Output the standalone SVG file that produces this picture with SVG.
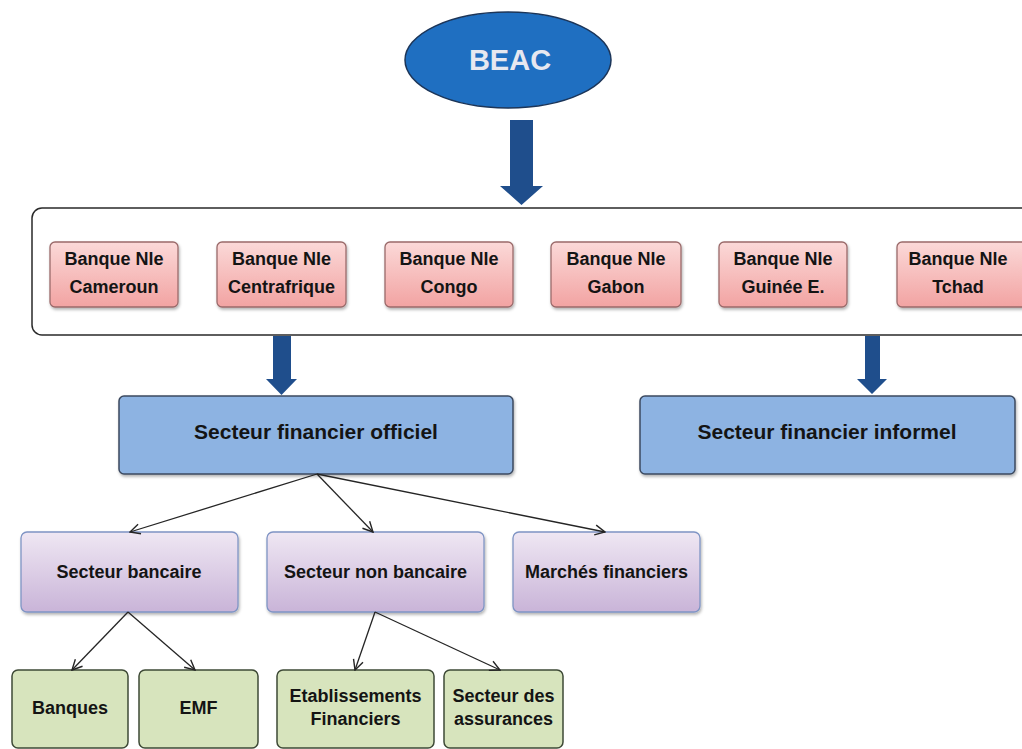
<svg xmlns="http://www.w3.org/2000/svg" width="1022" height="749" viewBox="0 0 1022 749">
<style>
text{font-family:"Liberation Sans",Arial,sans-serif;font-weight:bold;fill:#141414;text-anchor:middle}
.pink{fill:url(#gPink);stroke:#9a6a6a;stroke-width:1.3}
.blue{fill:#8db3e2;stroke:#3c4a60;stroke-width:1.5}
.purple{fill:url(#gPurple);stroke:#7f94c4;stroke-width:1.3}
.green{fill:#d7e4bd;stroke:#3e4a36;stroke-width:1.5}
.thin{fill:none;stroke:#252525;stroke-width:1.3;marker-end:url(#open)}
.big{fill:#1f4e8c}
</style>
<defs>
<linearGradient id="gPink" x1="0" y1="0" x2="0" y2="1">
<stop offset="0" stop-color="#fbd9d8"/><stop offset="1" stop-color="#f2a3a2"/>
</linearGradient>
<linearGradient id="gPurple" x1="0" y1="0" x2="0" y2="1">
<stop offset="0" stop-color="#efe7f3"/><stop offset="1" stop-color="#c9b4d8"/>
</linearGradient>
<filter id="sh" x="-10%" y="-10%" width="120%" height="130%">
<feDropShadow dx="1" dy="2" stdDeviation="1.5" flood-color="#000" flood-opacity="0.3"/>
</filter>
<marker id="open" viewBox="0 0 12 12" refX="11" refY="6" markerWidth="12" markerHeight="12" markerUnits="userSpaceOnUse" orient="auto">
<path d="M1,1 L11,6 L1,11" fill="none" stroke="#252525" stroke-width="1.4"/>
</marker>
</defs>
<rect width="1022" height="749" fill="#ffffff"/>

<g id="beac">
<ellipse cx="508" cy="60" rx="103" ry="48" fill="#1f6fc1" stroke="#1c3558" stroke-width="1.5"/>
<text x="510" y="70" style="font-size:29px;fill:#e6e8f0">BEAC</text>
</g>

<g id="banques-nationales">
<rect x="32" y="208" width="1010" height="127" rx="10" fill="#ffffff" stroke="#2a2a2a" stroke-width="1.5"/>
</g>
<g id="bn-cameroun"><rect class="pink" x="50" y="242" width="128" height="65" rx="5" filter="url(#sh)"/><text x="114" y="265" font-size="18">Banque Nle</text><text x="114" y="293" font-size="18">Cameroun</text></g>
<g id="bn-centrafrique"><rect class="pink" x="217" y="242" width="129" height="65" rx="5" filter="url(#sh)"/><text x="281.5" y="265" font-size="18">Banque Nle</text><text x="281.5" y="293" font-size="18">Centrafrique</text></g>
<g id="bn-congo"><rect class="pink" x="385" y="242" width="128" height="65" rx="5" filter="url(#sh)"/><text x="449" y="265" font-size="18">Banque Nle</text><text x="449" y="293" font-size="18">Congo</text></g>
<g id="bn-gabon"><rect class="pink" x="551" y="242" width="130" height="65" rx="5" filter="url(#sh)"/><text x="616" y="265" font-size="18">Banque Nle</text><text x="616" y="293" font-size="18">Gabon</text></g>
<g id="bn-guinee"><rect class="pink" x="719" y="242" width="128" height="65" rx="5" filter="url(#sh)"/><text x="783" y="265" font-size="18">Banque Nle</text><text x="783" y="293" font-size="18">Guinée E.</text></g>
<g id="bn-tchad"><rect class="pink" x="897" y="242" width="132" height="65" rx="5" filter="url(#sh)"/><text x="958" y="265" font-size="18">Banque Nle</text><text x="958" y="293" font-size="18">Tchad</text></g>

<g id="sf-officiel"><rect class="blue" x="119" y="396" width="394" height="78" rx="5" filter="url(#sh)"/><text x="316" y="439" font-size="21">Secteur financier officiel</text></g>
<g id="sf-informel"><rect class="blue" x="640" y="396" width="375" height="78" rx="5" filter="url(#sh)"/><text x="827" y="439" font-size="21">Secteur financier informel</text></g>

<g id="s-bancaire"><rect class="purple" x="21" y="532" width="217" height="80" rx="6" filter="url(#sh)"/><text x="129" y="578" font-size="18">Secteur bancaire</text></g>
<g id="s-non-bancaire"><rect class="purple" x="267" y="532" width="217" height="80" rx="6" filter="url(#sh)"/><text x="375.5" y="578" font-size="18">Secteur non bancaire</text></g>
<g id="marches"><rect class="purple" x="513" y="532" width="187" height="80" rx="6" filter="url(#sh)"/><text x="606.5" y="578" font-size="18">Marchés financiers</text></g>

<g id="banques"><rect class="green" x="12" y="670" width="116" height="78" rx="6"/><text x="70" y="714" font-size="18">Banques</text></g>
<g id="emf"><rect class="green" x="139" y="670" width="119" height="78" rx="6"/><text x="198.5" y="714" font-size="18">EMF</text></g>
<g id="etablissements"><rect class="green" x="277" y="670" width="157" height="78" rx="6"/><text x="355.5" y="702" font-size="18">Etablissements</text><text x="355.5" y="725" font-size="18">Financiers</text></g>
<g id="assurances"><rect class="green" x="444" y="670" width="119" height="78" rx="6"/><text x="503.5" y="702" font-size="18">Secteur des</text><text x="503.5" y="725" font-size="18">assurances</text></g>

<g id="connectors">
<polygon class="big" points="510,120 533,120 533,186 543,186 521.5,205 500,186 510,186"/>
<polygon class="big" points="273,336 291,336 291,379 297,379 281.5,395 266,379 273,379"/>
<polygon class="big" points="865,336 880,336 880,379 887,379 872,394 857,379 865,379"/>
<path class="thin" d="M317,474 L130,532"/>
<path class="thin" d="M317,474 L373,532"/>
<path class="thin" d="M317,474 L605,532"/>
<path class="thin" d="M128,612 L72,670"/>
<path class="thin" d="M128,612 L195,670"/>
<path class="thin" d="M375,612 L355,670"/>
<path class="thin" d="M375,612 L500,670"/>
</g>
</svg>
